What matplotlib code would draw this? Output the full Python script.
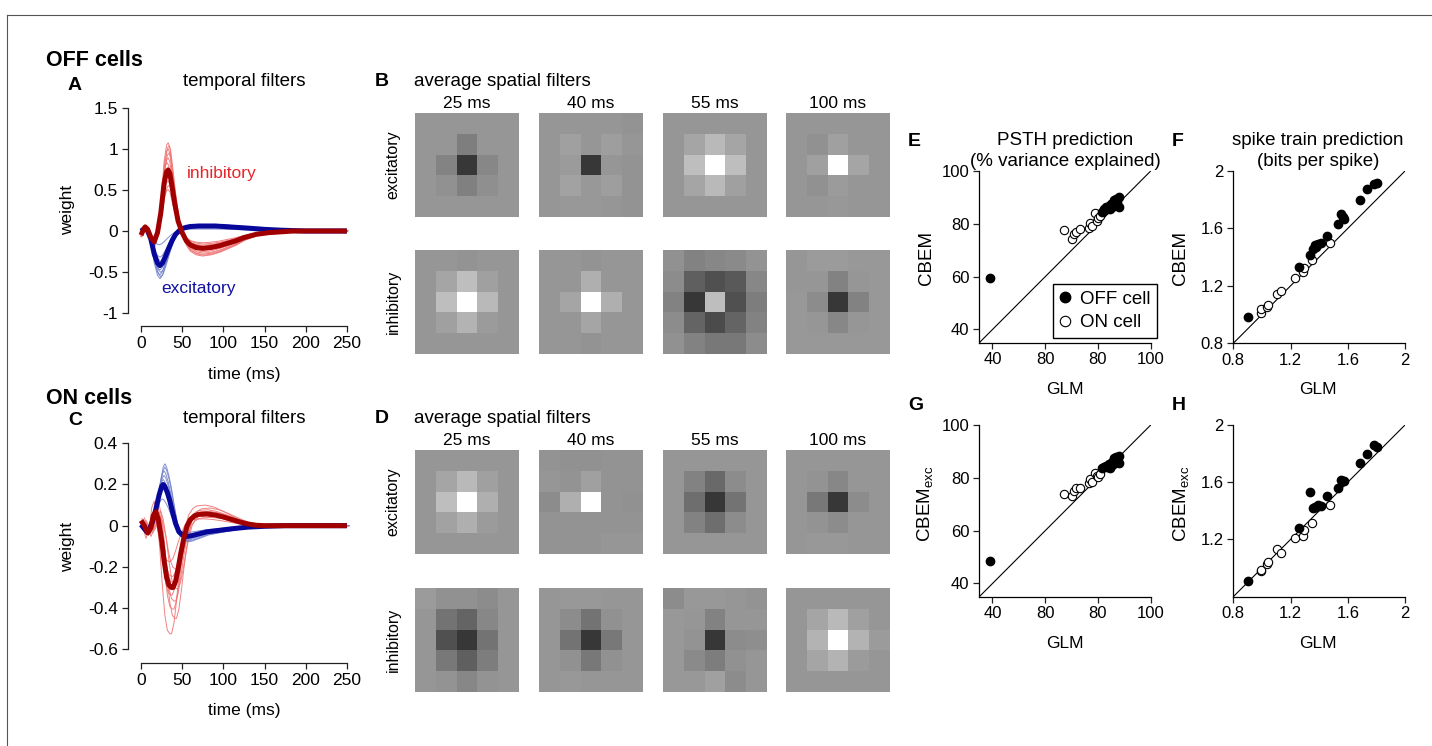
"""
Temporal/spatial filters and model comparison figure (OFF and ON cells).
Saves: out.png
"""

import numpy as np
import matplotlib
import matplotlib.pyplot as plt
from matplotlib.lines import Line2D

matplotlib.use("Agg")

plt.rcParams["font.family"] = ["Liberation Sans", "DejaVu Sans"]
plt.rcParams["mathtext.fontset"] = "custom"
plt.rcParams["mathtext.rm"] = "Liberation Sans"
plt.rcParams["mathtext.it"] = "Liberation Sans:italic"
plt.rcParams["axes.unicode_minus"] = False

W, H = 1432, 746

# ---------------- temporal filters (mean over cells) ----------------
off_inh_t = [0, 3, 5, 8, 12, 16, 20, 24, 28, 31, 33, 35, 38, 41, 45, 50, 55, 60,
             67, 75, 85, 95, 105, 115, 125, 140, 155, 170, 185, 200, 225, 250]
off_inh_w = [-0.05, 0.02, 0.05, 0.02, -0.08, -0.13, -0.02, 0.22, 0.58, 0.72, 0.74,
             0.70, 0.52, 0.33, 0.12, -0.02, -0.12, -0.17, -0.20, -0.21, -0.20,
             -0.18, -0.15, -0.12, -0.08, -0.04, -0.02, -0.01, 0.0, 0.0, 0.0, 0.0]
off_exc_t = [0, 3, 5, 8, 12, 16, 20, 23, 26, 30, 34, 38, 42, 46, 50, 55, 60, 70,
             80, 90, 100, 115, 130, 150, 170, 200, 225, 250]
off_exc_w = [0.0, 0.02, 0.03, 0.0, -0.10, -0.28, -0.39, -0.42, -0.39, -0.30, -0.20,
             -0.11, -0.04, 0.0, 0.03, 0.045, 0.055, 0.06, 0.06, 0.06, 0.055, 0.045,
             0.035, 0.02, 0.01, 0.0, 0.0, 0.0]

on_inh_t = [0, 4, 8, 12, 15, 18, 21, 25, 28, 31, 34, 37, 39, 42, 45, 48, 52, 56, 60,
            65, 70, 80, 90, 100, 110, 120, 130, 140, 150, 175, 200, 250]
on_inh_w = [0.025, 0.0, -0.035, -0.01, 0.05, 0.068, 0.03, -0.07, -0.17, -0.25, -0.29,
            -0.30, -0.30, -0.27, -0.21, -0.14, -0.06, 0.0, 0.03, 0.048, 0.055, 0.057,
            0.052, 0.042, 0.03, 0.018, 0.008, 0.002, 0.0, 0.0, 0.0, 0.0]
on_exc_t = [0, 4, 7, 10, 14, 18, 22, 25, 27, 29, 32, 35, 38, 42, 46, 50, 55, 60, 70,
            80, 90, 100, 115, 130, 150, 175, 200, 250]
on_exc_w = [0.005, -0.015, -0.03, -0.02, 0.02, 0.08, 0.15, 0.19, 0.20, 0.19, 0.16,
            0.12, 0.07, 0.01, -0.03, -0.045, -0.052, -0.05, -0.04, -0.03, -0.025,
            -0.02, -0.013, -0.007, -0.003, 0.0, 0.0, 0.0]

# per-cell amplitude (relative to mean) and latency offset (ms)
off_inh_gain = [1.45, 1.40, 1.35, 1.28, 1.20, 1.12, 1.05, 0.98, 0.90, 0.82, 0.75, 0.68]
off_inh_lag = [0, 1, 0, 1, 0, -1, 0, 1, 0, 0, 1, 0]
off_exc_gain = [1.38, 1.33, 1.27, 1.20, 1.13, 1.05, 0.97, 0.88, 0.76, 0.40]
off_exc_lag = [0, 1, 0, 1, 0, -1, 0, 1, 0, -1]
on_inh_gain = [1.75, 1.50, 1.35, 1.22, 1.12, 1.02, 0.93, 0.82, 0.70, 0.58]
on_inh_lag = [-2, 4, 1, 3, -1, 6, 2, 0, 5, -3]
on_exc_gain = [1.50, 1.42, 1.33, 1.22, 1.12, 0.95, 0.65]
on_exc_lag = [2, 2, 1, 1, 0, 0, -1]

# ---------------- average spatial filters (5x5, grey levels) ----------------
lags_ms = ["25 ms", "40 ms", "55 ms", "100 ms"]

off_exc_space = [
    [[150, 150, 150, 150, 150], [150, 150, 126, 150, 150], [150, 131, 55, 135, 150],
     [150, 145, 128, 143, 150], [150, 150, 150, 150, 150]],
    [[150, 150, 150, 150, 147], [150, 160, 150, 158, 150], [150, 155, 55, 150, 148],
     [150, 162, 152, 158, 148], [150, 152, 152, 150, 148]],
    [[150, 150, 150, 150, 150], [150, 165, 185, 165, 150], [150, 190, 255, 190, 150],
     [150, 165, 185, 160, 150], [150, 150, 150, 150, 150]],
    [[150, 150, 150, 150, 150], [150, 145, 160, 150, 150], [150, 160, 255, 165, 150],
     [150, 145, 155, 150, 150], [150, 150, 152, 150, 150]],
]
off_inh_space = [
    [[150, 150, 148, 150, 150], [150, 165, 190, 160, 150], [150, 190, 255, 185, 150],
     [150, 160, 180, 155, 150], [150, 150, 150, 150, 150]],
    [[150, 150, 148, 150, 150], [150, 150, 175, 150, 150], [150, 165, 255, 175, 150],
     [150, 150, 165, 150, 150], [150, 150, 148, 150, 150]],
    [[145, 130, 135, 138, 148], [140, 95, 80, 90, 135], [130, 55, 190, 80, 125],
     [140, 100, 75, 100, 130], [145, 130, 120, 120, 140]],
    [[150, 155, 155, 152, 152], [150, 150, 130, 150, 152], [152, 140, 55, 130, 152],
     [152, 150, 135, 150, 152], [152, 152, 152, 152, 152]],
]
on_exc_space = [
    [[150, 150, 150, 150, 150], [150, 165, 185, 160, 150], [150, 190, 255, 175, 150],
     [150, 162, 175, 155, 150], [150, 150, 150, 150, 150]],
    [[148, 145, 145, 148, 148], [150, 148, 160, 148, 148], [140, 175, 255, 148, 145],
     [148, 148, 148, 148, 148], [148, 148, 148, 150, 150]],
    [[150, 150, 150, 150, 150], [150, 130, 105, 140, 150], [150, 110, 55, 115, 150],
     [150, 130, 110, 140, 150], [150, 150, 150, 150, 150]],
    [[150, 150, 150, 150, 150], [150, 148, 135, 150, 150], [150, 120, 55, 140, 150],
     [150, 148, 140, 150, 150], [150, 152, 152, 150, 150]],
]
on_inh_space = [
    [[155, 145, 145, 140, 150], [150, 115, 100, 135, 150], [150, 80, 55, 115, 150],
     [150, 120, 95, 125, 150], [150, 148, 135, 148, 150]],
    [[150, 152, 152, 150, 150], [150, 140, 115, 145, 150], [150, 115, 55, 120, 150],
     [150, 145, 120, 145, 150], [150, 152, 150, 150, 150]],
    [[140, 152, 152, 150, 148], [152, 150, 130, 150, 150], [152, 148, 55, 140, 142],
     [152, 138, 125, 145, 150], [152, 152, 160, 140, 150]],
    [[150, 150, 150, 150, 150], [150, 165, 185, 160, 150], [150, 180, 255, 180, 155],
     [150, 165, 180, 155, 150], [150, 150, 150, 150, 150]],
]

# ---------------- model performance per cell ----------------
# PSTH prediction, % variance explained
psth_glm_off = [39.0, 81.4, 82.2, 82.9, 83.5, 84.0, 84.5, 84.9, 85.3, 85.8, 86.2,
                86.6, 87.0, 87.4, 87.8, 88.1, 86.0]
psth_cbem_off = [59.4, 84.3, 85.5, 86.4, 85.7, 86.9, 85.5, 87.5, 86.4, 87.8, 88.7,
                 87.2, 89.5, 88.2, 90.2, 86.4, 89.0]
psth_exc_off = [48.6, 83.6, 84.0, 84.6, 84.0, 85.2, 83.8, 85.6, 84.9, 86.1, 87.0,
                85.6, 87.7, 86.5, 88.3, 85.7, 87.4]
psth_glm_on = [67.2, 70.3, 71.0, 71.6, 73.2, 76.6, 77.0, 77.6, 78.9, 79.5, 80.1, 80.6]
psth_cbem_on = [77.6, 74.3, 76.0, 76.8, 78.0, 78.4, 80.3, 79.2, 84.0, 81.1, 82.1, 83.0]
psth_exc_on = [74.0, 73.2, 75.2, 76.1, 76.1, 77.9, 79.5, 78.5, 81.7, 80.7, 80.2, 81.5]

# spike train prediction, bits per spike
bps_glm_off = [0.90, 1.259, 1.336, 1.355, 1.371, 1.394, 1.413, 1.38, 1.453, 1.530,
               1.553, 1.565, 1.574, 1.686, 1.737, 1.786, 1.807]
bps_cbem_off = [0.981, 1.334, 1.415, 1.455, 1.485, 1.492, 1.501, 1.47, 1.548, 1.631,
                1.701, 1.682, 1.668, 1.798, 1.872, 1.909, 1.914]
bps_exc_off = [0.909, 1.282, 1.534, 1.417, 1.430, 1.441, 1.434, 1.43, 1.503, 1.562,
               1.615, 1.610, 1.608, 1.737, 1.797, 1.860, 1.848]
bps_glm_on = [0.993, 0.993, 1.033, 1.040, 1.103, 1.131, 1.231, 1.285, 1.294, 1.348, 1.476]
bps_cbem_on = [1.009, 1.042, 1.051, 1.067, 1.142, 1.162, 1.253, 1.299, 1.322, 1.381, 1.497]
bps_exc_on = [0.981, 0.985, 1.028, 1.040, 1.133, 1.107, 1.207, 1.224, 1.266, 1.312, 1.441]

psth_ticks = [40, 60, 80, 100]
psth_ticklabels = ["40", "80", "80", "100"]
bps_ticks = [0.8, 1.2, 1.6, 2.0]
bps_ticklabels = ["0.8", "1.2", "1.6", "2"]

RED_THICK = "#a00000"
RED_THIN = "#f07474"
BLUE_THICK = "#07079a"
BLUE_THIN = "#7384cc"

TICK_FS = 12
LABEL_FS = 12.5
TITLE_FS = 13.5
LETTER_FS = 14


def px_axes(fig, x0, y0, x1, y1):
    """Add axes from pixel box (top-left origin)."""
    return fig.add_axes([x0 / W, 1 - y1 / H, (x1 - x0) / W, (y1 - y0) / H])


def ftext(fig, x, y, s, **kw):
    fig.text(x / W, 1 - y / H, s, **kw)


def style_axes(ax, labelsize=TICK_FS):
    for side in ["top", "right"]:
        ax.spines[side].set_visible(False)
    for side in ["left", "bottom"]:
        ax.spines[side].set_linewidth(0.9)
        ax.spines[side].set_color("#222222")
    ax.tick_params(direction="out", length=4, width=0.9, labelsize=labelsize,
                   color="#222222", pad=3)


def plot_temporal(ax, inh, exc, yticks, ylabels, ylim):
    (it, iw, igain, ilag), (et, ew, egain, elag) = inh, exc
    it, iw, et, ew = map(np.asarray, (it, iw, et, ew))

    for g, lag in zip(igain, ilag):
        t = it + lag
        keep = t >= 0
        ax.plot(t[keep], g * iw[keep], color=RED_THIN, lw=0.7, alpha=0.9)
    for g, lag in zip(egain, elag):
        t = et + lag
        keep = t >= 0
        ax.plot(t[keep], g * ew[keep], color=BLUE_THIN, lw=0.7, alpha=0.9)

    ax.plot(et, ew, color=BLUE_THICK, lw=3.6, solid_capstyle="butt")
    ax.plot(it, iw, color=RED_THICK, lw=3.6, solid_capstyle="butt")

    style_axes(ax, labelsize=12.5)
    ax.set_xlim(-16.2, 253.8)
    ax.set_ylim(*ylim)
    ax.spines["left"].set_bounds(yticks[0], yticks[-1])
    ax.spines["bottom"].set_bounds(0, 250)
    ax.set_xticks([0, 50, 100, 150, 200, 250])
    ax.set_xticklabels(["0", "50", "100", "150", "200", "250"])
    ax.set_yticks(yticks)
    ax.set_yticklabels(ylabels)


def plot_spatial(fig, maps, row_top, row_h):
    cols_x = [415, 539, 662.5, 786]
    for x0, img in zip(cols_x, maps):
        ax = px_axes(fig, x0, row_top, x0 + 104, row_top + row_h)
        ax.imshow(np.array(img), cmap="gray", vmin=0, vmax=255,
                  interpolation="nearest", aspect="auto")
        ax.set_axis_off()


def plot_scatter(ax, off_xy, on_xy, lims, ticks, ticklabels, yticks):
    lo, hi = lims
    ax.plot([lo, hi], [lo, hi], color="black", lw=0.8, zorder=1)
    ax.scatter(on_xy[0], on_xy[1], s=36, facecolors="white", edgecolors="black",
               linewidths=0.8, zorder=2)
    ax.scatter(off_xy[0], off_xy[1], s=36, color="black", zorder=3)
    style_axes(ax)
    ax.spines["left"].set_color("black")
    ax.spines["bottom"].set_color("black")
    ax.set_xlim(lo, hi)
    ax.set_ylim(lo, hi)
    ax.set_xticks(ticks)
    ax.set_xticklabels(ticklabels)
    ax.set_yticks(yticks[0])
    ax.set_yticklabels(yticks[1])


if __name__ == "__main__":
    fig = plt.figure(figsize=(W / 100, H / 100), dpi=100)

    # outer frame (top and left rules)
    fig.add_artist(Line2D([7 / W, 1], [1 - 15 / H, 1 - 15 / H], color="#555555", lw=0.8))
    fig.add_artist(Line2D([7 / W, 7 / W], [0, 1 - 15 / H], color="#555555", lw=0.8))

    # ---- A: OFF temporal filters ----
    axA = px_axes(fig, 127.7, 106, 350, 326)
    plot_temporal(axA,
                  (off_inh_t, off_inh_w, off_inh_gain, off_inh_lag),
                  (off_exc_t, off_exc_w, off_exc_gain, off_exc_lag),
                  [-1, -0.5, 0, 0.5, 1, 1.5],
                  ["-1", "-0.5", "0", "0.5", "1", "1.5"],
                  (-1.155, 1.52))
    axA.text(55.5, 0.70, "inhibitory", color="#e8252a", fontsize=LABEL_FS,
             ha="left", va="center")
    axA.text(25, -0.70, "excitatory", color="#1212a0", fontsize=LABEL_FS,
             ha="left", va="center")

    ftext(fig, 46, 66.5, "OFF cells", fontsize=15.5, fontweight="bold", va="baseline")
    ftext(fig, 68, 90, "A", fontsize=LETTER_FS, fontweight="bold", va="baseline")
    ftext(fig, 244, 86.5, "temporal filters", fontsize=TITLE_FS, ha="center",
          va="baseline")
    ftext(fig, 68, 210, "weight", fontsize=LABEL_FS, rotation=90, ha="center",
          va="center")
    ftext(fig, 244, 374, "time (ms)", fontsize=LABEL_FS, ha="center", va="center")

    # ---- C: ON temporal filters ----
    axC = px_axes(fig, 127.7, 441.2, 350, 663.3)
    plot_temporal(axC,
                  (on_inh_t, on_inh_w, on_inh_gain, on_inh_lag),
                  (on_exc_t, on_exc_w, on_exc_gain, on_exc_lag),
                  [-0.6, -0.4, -0.2, 0, 0.2, 0.4],
                  ["-0.6", "-0.4", "-0.2", "0", "0.2", "0.4"],
                  (-0.668, 0.41))

    ftext(fig, 46, 403.5, "ON cells", fontsize=15.5, fontweight="bold", va="baseline")
    ftext(fig, 68, 425, "C", fontsize=LETTER_FS, fontweight="bold", va="baseline")
    ftext(fig, 244, 423, "temporal filters", fontsize=TITLE_FS, ha="center",
          va="baseline")
    ftext(fig, 68, 547, "weight", fontsize=LABEL_FS, rotation=90, ha="center",
          va="center")
    ftext(fig, 244, 710, "time (ms)", fontsize=LABEL_FS, ha="center", va="center")

    # ---- B / D: average spatial filters ----
    col_centres = [467, 591, 714.5, 838]
    for letter, base, exc_maps, inh_maps, exc_top, inh_top in [
        ("B", 86, off_exc_space, off_inh_space, 112.7, 250),
        ("D", 423, on_exc_space, on_inh_space, 450, 587.5),
    ]:
        ftext(fig, 375, base, letter, fontsize=LETTER_FS, fontweight="bold",
              va="baseline")
        ftext(fig, 414, base, "average spatial filters", fontsize=TITLE_FS,
              va="baseline")
        for xc, lab in zip(col_centres, lags_ms):
            ftext(fig, xc, base + 22, lab, fontsize=LABEL_FS, ha="center",
                  va="baseline")
        plot_spatial(fig, exc_maps, exc_top, 104)
        plot_spatial(fig, inh_maps, inh_top, 104)
        ftext(fig, 393, exc_top + 52, "excitatory", fontsize=11.5, rotation=90,
              ha="center", va="center")
        ftext(fig, 393, inh_top + 52, "inhibitory", fontsize=11.5, rotation=90,
              ha="center", va="center")

    # ---- E-H: CBEM vs GLM ----
    axE = px_axes(fig, 979.3, 171, 1150.7, 342.7)
    plot_scatter(axE, (psth_glm_off, psth_cbem_off), (psth_glm_on, psth_cbem_on),
                 (35, 100), psth_ticks, psth_ticklabels,
                 (psth_ticks, [str(v) for v in psth_ticks]))
    axF = px_axes(fig, 1233.3, 171, 1405, 343.3)
    plot_scatter(axF, (bps_glm_off, bps_cbem_off), (bps_glm_on, bps_cbem_on),
                 (0.8, 2.0), bps_ticks, bps_ticklabels,
                 (bps_ticks, bps_ticklabels))
    axG = px_axes(fig, 979.3, 425, 1150.7, 596.7)
    plot_scatter(axG, (psth_glm_off, psth_exc_off), (psth_glm_on, psth_exc_on),
                 (35, 100), psth_ticks, psth_ticklabels,
                 (psth_ticks, [str(v) for v in psth_ticks]))
    axH = px_axes(fig, 1233.3, 425, 1405, 596.7)
    plot_scatter(axH, (bps_glm_off, bps_exc_off), (bps_glm_on, bps_exc_on),
                 (0.8, 2.0), bps_ticks, bps_ticklabels,
                 (bps_ticks[1:], bps_ticklabels[1:]))

    handles = [
        Line2D([], [], marker="o", ls="", mfc="black", mec="black", ms=7.5,
               label="OFF cell"),
        Line2D([], [], marker="o", ls="", mfc="white", mec="black", mew=0.8, ms=7.5,
               label="ON cell"),
    ]
    leg = axE.legend(handles=handles, loc="lower right",
                     bbox_to_anchor=(1157.3 / W, 1 - 338 / H),
                     bbox_transform=fig.transFigure, fontsize=TITLE_FS,
                     frameon=True, fancybox=False, edgecolor="black",
                     framealpha=1, borderpad=0.35, handlelength=0.6,
                     handletextpad=0.5, labelspacing=0.35, borderaxespad=0)
    leg.get_frame().set_linewidth(1.0)

    ftext(fig, 908, 146.5, "E", fontsize=LETTER_FS, fontweight="bold", va="baseline")
    ftext(fig, 1065, 145, "PSTH prediction", fontsize=TITLE_FS, ha="center",
          va="baseline")
    ftext(fig, 1065, 166, "(% variance explained)", fontsize=TITLE_FS, ha="center",
          va="baseline")
    ftext(fig, 1171.5, 146.5, "F", fontsize=LETTER_FS, fontweight="bold",
          va="baseline")
    ftext(fig, 1318, 145, "spike train prediction", fontsize=TITLE_FS, ha="center",
          va="baseline")
    ftext(fig, 1318, 166, "(bits per spike)", fontsize=TITLE_FS, ha="center",
          va="baseline")
    ftext(fig, 908, 410, "G", fontsize=LETTER_FS, fontweight="bold", va="baseline")
    ftext(fig, 1171.5, 410, "H", fontsize=LETTER_FS, fontweight="bold", va="baseline")

    for xc, yc, lab in [(926, 258, "CBEM"), (1180, 258, "CBEM"),
                        (925, 504, r"CBEM$_{\mathrm{exc}}$"),
                        (1181, 504, r"CBEM$_{\mathrm{exc}}$")]:
        ftext(fig, xc, yc, lab, fontsize=13.5, rotation=90, ha="center",
              va="center")
    for xc, yc in [(1065, 389), (1318, 389), (1065, 643), (1318, 643)]:
        ftext(fig, xc, yc, "GLM", fontsize=LABEL_FS, ha="center", va="center")

    fig.savefig("out.png", dpi=100)
    plt.close(fig)
    print("[INFO] Saved: out.png")
